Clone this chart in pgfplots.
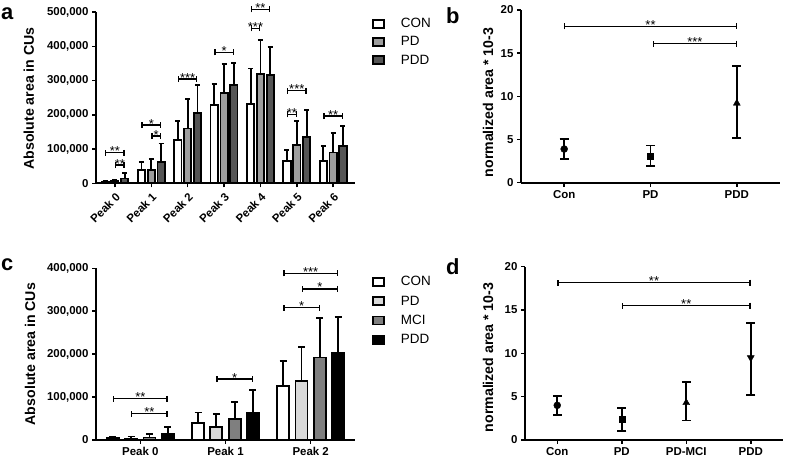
\documentclass[border=0pt]{standalone}
\usepackage{pgfplots}
\pgfplotsset{compat=1.18}
\usepackage{pgfplotstable}
\usepackage{fontspec}
\setmainfont{Liberation Sans}
\usetikzlibrary{arrows.meta}

\definecolor{gA}{HTML}{9E9E9E}
\definecolor{gB}{HTML}{555555}
\definecolor{cL}{HTML}{D9D9D9}
\definecolor{cM}{HTML}{7F7F7F}

\pgfplotstableread{
x con conE pd pdE pdd pddE
0 4000 2500 6000 3000 14000 16000
1 39000 24000 39000 33000 62000 54000
2 126000 57000 160000 87000 206000 81000
3 228000 62000 263000 85000 286000 66000
4 231000 104000 318000 100000 316000 83000
5 65000 33000 112000 71000 134000 79000
6 64000 45000 90000 56000 108000 59000
}\dataA

\pgfplotstableread{
x con conE pd pdE mci mciE pdd pddE
0 4000 4000 3000 5000 6000 8000 14000 17000
1 39000 25000 31000 30000 49000 40000 63000 53000
2 126000 58000 138000 78000 192000 92000 204000 83000
}\dataC

\tikzset{
  sig/.style={line width=1.3bp, {Bar[width=6bp,line width=1.3bp]}-{Bar[width=6bp,line width=1.3bp]}},
  star/.style={font=\fontsize{13}{13}\selectfont, anchor=base, yshift=-3bp, inner sep=0pt},
  panel/.style={font=\fontsize{22}{24}\selectfont\bfseries, anchor=base west, inner sep=0pt},
}

\pgfplotsset{
  gp/.style={
    scale only axis, clip=false, anchor=south west,
    axis x line*=bottom, axis y line*=left,
    axis line style={line width=1.9bp, black},
    tick style={line width=1.5bp, black},
    major tick length=4bp,
    tick align=outside,
    ymin=0,
    tick label style={font=\fontsize{11.5}{13}\selectfont\bfseries},
    /pgf/number format/.cd, fixed, precision=0, 1000 sep={,}, assume math mode=true,
    /pgfplots/.cd,
    scaled y ticks=false,
    legend style={at={(1,1)}, anchor=north west, draw=none, fill=none,
      font=\fontsize{13.5}{15}\selectfont, row sep=3.5bp},
    legend cell align=left,
  },
  ylab/.style 2 args={every axis y label/.style={at={(axis description cs:#1,#2)},
      rotate=90, anchor=center, font=\fontsize{14.2}{15}\selectfont\bfseries}},
  barleg/.style={legend image code/.code={
      \draw[##1, line width=1.8bp, draw=black] (0bp,-4bp) rectangle (11bp,4bp);
      \node[draw=none, fill=none, inner sep=0pt, minimum size=0pt] at (25bp,0bp) {};}},
  errup/.style={error bars/.cd, y dir=plus, y explicit,
      error bar style={line width=1.8bp, black},
      error mark options={rotate=90, line width=1.8bp, mark size=#1, black}},
  errboth/.style={error bars/.cd, y dir=both, y explicit,
      error bar style={line width=1.8bp, black},
      error mark options={rotate=90, line width=1.8bp, mark size=4.5bp, black}},
  bars/.style 2 args={ybar, bar width=#1, bar shift=0, fill=#2, draw=black, line width=1.8bp, barleg},
}

\begin{document}
\begin{tikzpicture}
\useasboundingbox (0,0) rectangle (787bp,461bp);

% ---------------- panel a ----------------
\begin{axis}[gp, at={(96bp,277.7bp)}, width=259bp, height=171.3bp,
  xmin=-0.52, xmax=6.6, ymax=500000,
  ytick={0,100000,200000,300000,400000,500000},
  xtick={0,1,2,3,4,5,6},
  xticklabels={Peak 0,Peak 1,Peak 2,Peak 3,Peak 4,Peak 5,Peak 6},
  xticklabel style={rotate=45, anchor=north east},
  ylabel={Absolute area in CUs}, ylab={-0.259}{0.496},
  legend style={xshift=14bp, yshift=-2bp},
]
\addplot[bars={0.2}{white}, errup=2.5bp]
  table[x expr=\thisrow{x}-0.27, y=con, y error=conE]{\dataA};
\addplot[bars={0.2}{gA}, errup=2.5bp]
  table[x expr=\thisrow{x}, y=pd, y error=pdE]{\dataA};
\addplot[bars={0.2}{gB}, errup=2.5bp]
  table[x expr=\thisrow{x}+0.27, y=pdd, y error=pddE]{\dataA};
\legend{CON,PD,PDD}
\draw[sig] (axis cs:-0.27,89000) -- (axis cs:0.27,89000) node[star, midway]{**};
\draw[sig] (axis cs:0,53000) -- (axis cs:0.27,53000) node[star, midway]{**};
\draw[sig] (axis cs:0.73,170000) -- (axis cs:1.27,170000) node[star, midway]{*};
\draw[sig] (axis cs:1,138000) -- (axis cs:1.27,138000) node[star, midway]{*};
\draw[sig] (axis cs:1.73,304000) -- (axis cs:2.27,304000) node[star, midway]{***};
\draw[sig] (axis cs:2.73,382000) -- (axis cs:3.27,382000) node[star, midway]{*};
\draw[sig] (axis cs:3.73,452000) -- (axis cs:4,452000) node[star, midway]{***};
\draw[sig] (axis cs:3.73,508000) -- (axis cs:4.27,508000) node[star, midway]{**};
\draw[sig] (axis cs:4.73,201000) -- (axis cs:5,201000) node[star, midway]{**};
\draw[sig] (axis cs:4.73,270000) -- (axis cs:5.27,270000) node[star, midway]{***};
\draw[sig] (axis cs:5.73,196000) -- (axis cs:6.27,196000) node[star, midway]{**};
\end{axis}

% ---------------- panel b ----------------
\begin{axis}[gp, at={(521bp,278.3bp)}, width=259bp, height=172.7bp,
  xmin=-0.5, xmax=2.5, ymax=20, ytick={0,5,10,15,20},
  xtick={0,1,2}, xticklabels={Con,PD,PDD},
  ylabel={normalized area * 10-3}, ylab={-0.127}{0.464},
]
\addplot[black, only marks, mark=*, mark size=3.5bp, errboth]
  table[x=x, y=y, y error plus=ep, y error minus=em]{
x y ep em
0 3.9 1.2 1.15
};
\addplot[black, only marks, mark=square*, mark size=3bp, errboth]
  table[x=x, y=y, y error plus=ep, y error minus=em]{
x y ep em
1 3.1 1.2 1.2
};
\addplot[black, only marks, mark=triangle*, mark size=4bp, errboth]
  table[x=x, y=y, y error plus=ep, y error minus=em]{
x y ep em
2 9.2 4.3 4.0
};
\draw[sig] (axis cs:0,18.1) -- (axis cs:2,18.1) node[star, midway]{**};
\draw[sig] (axis cs:1.03,16.1) -- (axis cs:2,16.1) node[star, midway]{***};
\end{axis}

% ---------------- panel c ----------------
\begin{axis}[gp, at={(96bp,21bp)}, width=259bp, height=171.7bp,
  xmin=-0.52, xmax=2.52, ymax=400000,
  ytick={0,100000,200000,300000,400000},
  xtick={0,1,2}, xticklabels={Peak 0,Peak 1,Peak 2},
  ylabel={Absolute area in CUs}, ylab={-0.255}{0.5},
  legend style={xshift=14bp, yshift=-4bp, row sep=4.5bp},
]
\addplot[bars={0.14}{white}, errup=3.5bp]
  table[x expr=\thisrow{x}-0.3225, y=con, y error=conE]{\dataC};
\addplot[bars={0.14}{cL}, errup=3.5bp]
  table[x expr=\thisrow{x}-0.1075, y=pd, y error=pdE]{\dataC};
\addplot[bars={0.14}{cM}, errup=3.5bp]
  table[x expr=\thisrow{x}+0.1075, y=mci, y error=mciE]{\dataC};
\addplot[bars={0.14}{black}, errup=3.5bp]
  table[x expr=\thisrow{x}+0.3225, y=pdd, y error=pddE]{\dataC};
\legend{CON,PD,MCI,PDD}
\draw[sig] (axis cs:-0.3225,96000) -- (axis cs:0.3225,96000) node[star, midway]{**};
\draw[sig] (axis cs:-0.1075,61000) -- (axis cs:0.3225,61000) node[star, midway]{**};
\draw[sig] (axis cs:0.8925,142000) -- (axis cs:1.3225,142000) node[star, midway]{*};
\draw[sig] (axis cs:1.6775,388000) -- (axis cs:2.3225,388000) node[star, midway]{***};
\draw[sig] (axis cs:1.8925,352000) -- (axis cs:2.3225,352000) node[star, midway]{*};
\draw[sig] (axis cs:1.6775,308000) -- (axis cs:2.1075,308000) node[star, midway]{*};
\end{axis}

% ---------------- panel d ----------------
\begin{axis}[gp, at={(525bp,21bp)}, width=258bp, height=173.3bp,
  xmin=-0.5, xmax=3.5, ymax=20, ytick={0,5,10,15,20},
  xtick={0,1,2,3}, xticklabels={Con,PD,PD-MCI,PDD},
  ylabel={normalized area * 10-3}, ylab={-0.143}{0.476},
]
\addplot[black, only marks, mark=*, mark size=3.5bp, errboth]
  table[x=x, y=y, y error plus=ep, y error minus=em]{
x y ep em
0 4.0 1.1 1.15
};
\addplot[black, only marks, mark=square*, mark size=3bp, errboth]
  table[x=x, y=y, y error plus=ep, y error minus=em]{
x y ep em
1 2.35 1.35 1.35
};
\addplot[black, only marks, mark=triangle*, mark size=4bp, errboth]
  table[x=x, y=y, y error plus=ep, y error minus=em]{
x y ep em
2 4.3 2.35 2.05
};
\addplot[black, only marks, mark=triangle*, mark options={rotate=180}, mark size=4bp, errboth]
  table[x=x, y=y, y error plus=ep, y error minus=em]{
x y ep em
3 9.5 4.0 4.3
};
\draw[sig] (axis cs:0,18.15) -- (axis cs:3,18.15) node[star, midway]{**};
\draw[sig] (axis cs:1,15.5) -- (axis cs:3,15.5) node[star, midway]{**};
\end{axis}

% panel letters
\node[panel] at (1bp,441bp) {a};
\node[panel] at (446bp,437bp) {b};
\node[panel] at (1bp,190bp) {c};
\node[panel] at (446bp,186bp) {d};
\end{tikzpicture}
\end{document}
